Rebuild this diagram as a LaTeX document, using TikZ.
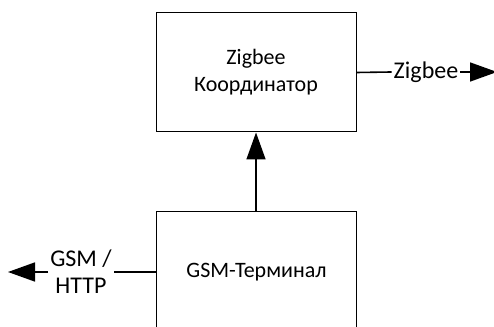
\documentclass[tikz,border=0pt]{standalone}
\usepackage{fontspec}
\setmainfont{Carlito}
\usetikzlibrary{arrows.meta}
\begin{document}
\begin{tikzpicture}[x=1pt,y=1pt,
  box/.style={draw=black, line width=1pt, minimum width=200pt, minimum height=119pt, inner sep=0pt, align=center, font=\fontsize{22pt}{27pt}\selectfont},
  lbl/.style={inner sep=2pt, align=center, font=\fontsize{24pt}{27pt}\selectfont},
  conn/.style={line width=1.6pt},
  arr/.style={line width=1.6pt, -{Triangle[length=27pt,width=19pt]}}]
\useasboundingbox (0,0) rectangle (494,326);
\clip (0,0) rectangle (494,326);
\node[box] (coord) at (256,253.5) {Zigbee\\Координатор};
\node[box, minimum height=120pt] (gsm) at (256.5,54) {GSM-Терминал};
\draw[arr] (gsm.north -| coord.south) -- (coord.south);
\node[lbl] (zl) at (426,254) {Zigbee};
\coordinate (zend) at (497,254);
\draw[conn] (coord.east) -- (zl.west);
\draw[arr] (zl.east) -- (zend);
\node[lbl] (gl) at (81,54) {GSM /\\HTTP};
\coordinate (gend) at (8,54);
\draw[conn] (gsm.west) -- (gl.east);
\draw[arr] (gl.west) -- (gend);
\end{tikzpicture}
\end{document}
